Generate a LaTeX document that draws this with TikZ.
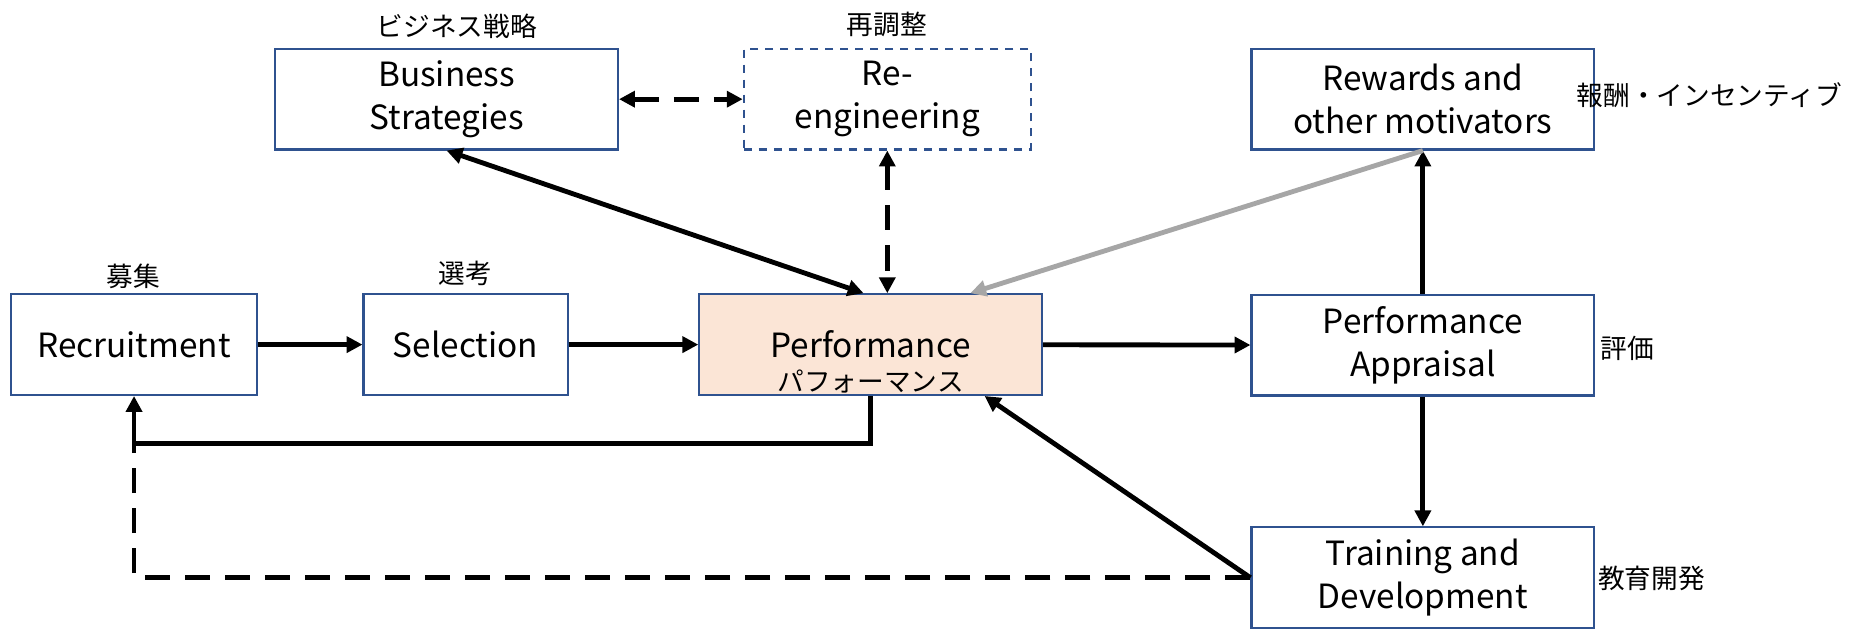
\documentclass[tikz,border=0pt]{standalone}
\usepackage{fontspec}
\setmainfont{Noto Sans CJK JP}
\usetikzlibrary{arrows.meta,calc}
\definecolor{boxblue}{HTML}{2F528F}
\definecolor{perffill}{HTML}{FBE5D6}
\definecolor{arrgray}{HTML}{A6A6A6}
\tikzset{
 hrbox/.style={draw=boxblue,line width=1.3pt,minimum height=2.12cm,align=center,
   inner sep=0pt,font=\fontsize{20}{26}\selectfont},
 jplbl/.style={inner sep=0pt,font=\fontsize{16}{19}\selectfont},
 arr/.style={line width=2.9pt,-{Triangle[length=9.5pt,width=9.5pt]}},
 biarr/.style={line width=2.9pt,{Triangle[length=9.5pt,width=9.5pt]}-{Triangle[length=9.5pt,width=9.5pt]}},
 dashline/.style={dash pattern=on 15pt off 9pt}
}
\begin{document}
\begin{tikzpicture}[x=0.025cm,y=-0.025cm]
 \useasboundingbox (0,0) rectangle (1568,530.3);

 % boxes
 \node[hrbox,minimum width=7.22cm] (bs) at (376.5,83.6) {Business\\Strategies};
 \node[hrbox,minimum width=6.05cm,dash pattern=on 5pt off 4pt] (re) at (748,83.6) {Re-\\engineering};
 \node[hrbox,minimum width=7.22cm] (rw) at (1199.5,83.6) {Rewards and\\other motivators};
 \node[hrbox,minimum width=5.17cm] (rec) at (113,290.5) {Recruitment};
 \node[hrbox,minimum width=4.3cm] (sel) at (392.5,290.5) {Selection};
 \node[hrbox,minimum width=7.22cm,fill=perffill] (perf) at (734,290.5) {Performance};
 \node[hrbox,minimum width=7.22cm] (pa) at (1199.5,291) {Performance\\Appraisal};
 \node[hrbox,minimum width=7.22cm] (td) at (1199.5,487) {Training and\\Development};

 % japanese labels
 \node[jplbl] (perfjp) at (734,322) {パフォーマンス};
 \node[jplbl] (bsjp) at (385,22.5) {ビジネス戦略};
 \node[jplbl] (rejp) at (747.5,21) {再調整};
 \node[jplbl] (recjp) at (112.5,233) {募集};
 \node[jplbl] (seljp) at (392,230.5) {選考};
 \node[jplbl,anchor=west] (rwjp) at (1329,80) {報酬・インセンティブ};
 \node[jplbl,anchor=west] (pajp) at (1349,293.5) {評価};
 \node[jplbl,anchor=west] (tdjp) at (1347,487.5) {教育開発};

 \coordinate (fb) at (113,374);

 % main flow
 \draw[arr] (rec) -- (sel);
 \draw[arr] (sel) -- (perf);
 \draw[arr] (perf) -- (pa);
 \draw[arr] (pa) -- (rw);
 \draw[arr] (pa) -- (td);

 % links to performance
 \draw[biarr] (bs.south) -- ($(perf.north)+(-6,0)$);
 \draw[biarr,dashline] (re.south) -- (re.south |- perf.north);
 \draw[biarr,dashline] (bs.east) -- (re.west);
 \draw[arr,arrgray] (rw.south) -- ($(perf.north)+(84,0)$);
 \draw[arr] (td.west) -- ($(perf.south)+(96,0)$);

 % feedback
 \draw[arr] (perf.south) |- (fb) -- (rec.south);
 \draw[line width=2.9pt,dashline] (td.west) -| (fb);
\end{tikzpicture}
\end{document}
